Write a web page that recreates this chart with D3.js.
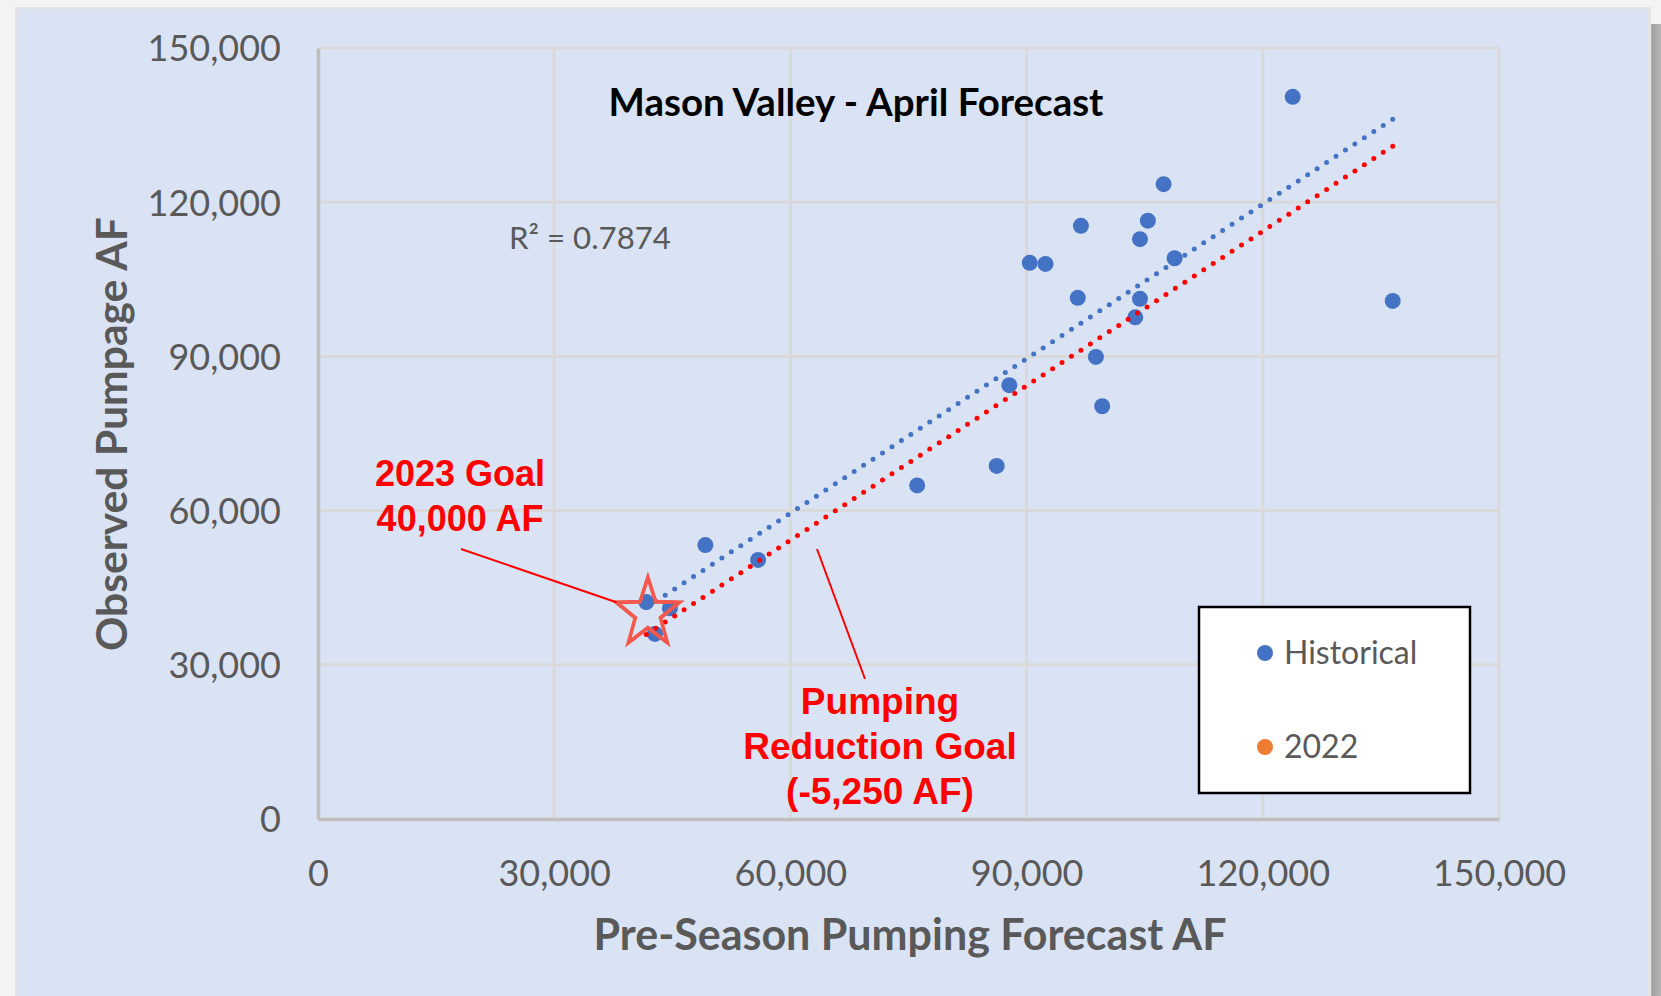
<!DOCTYPE html>
<html>
<head>
<meta charset="utf-8">
<script src="https://cdn.jsdelivr.net/npm/d3@7"></script>
<style>
  html, body { margin: 0; padding: 0; background: #f2f2f2; }
  svg { display: block; }
</style>
</head>
<body>
<svg id="chart" width="1661" height="996"></svg>
<script>
// Historical seasons: pre-season forecast vs. observed pumpage (AF)
const historicalForecast = [123800, 107400, 96900, 105400, 104400, 90400, 92400, 108800, 96500, 104400,
                            136500, 103800, 98800, 87800, 99600, 86200, 76100, 49200, 55900, 41700,
                            44700, 42800];
const historicalObserved = [140500, 123500, 115400, 116400, 112800, 108200, 108000, 109100, 101400, 101200,
                            100800, 97600, 89900, 84400, 80300, 68700, 64900, 53300, 50400, 42200,
                            41000, 36000];
// 2022 season (legend entry only)
const forecast2022 = [];
const observed2022 = [];

// Linear trend of historical data (end points)
const trendForecast = [41700, 136500];
const trendObserved = [41150, 136150];
const rSquared = 0.7874;

// Pumping reduction goal and 2023 target
const reductionAF = 5250;
const goalForecast = 41900;
const goalPumpage = 40000;

const xTicks = [0, 30000, 60000, 90000, 120000, 150000];
const yTicks = [0, 30000, 60000, 90000, 120000, 150000];

const svg = d3.select("#chart");
const W = 1661, H = 996;
const plot = { left: 318, right: 1499, top: 48, bottom: 819 };

const x = d3.scaleLinear().domain([0, 150000]).range([plot.left, plot.right]);
const y = d3.scaleLinear().domain([0, 150000]).range([plot.bottom, plot.top]);
const fmt = d3.format(",");

const labelGrey = "#595959";
const sansFont = "Lato, 'Open Sans', sans-serif";
const boldRed = "'Liberation Sans', Arial, sans-serif";

function fitWidth(sel, w) {
  const fs = parseFloat(sel.attr("font-size"));
  const len = sel.node().getComputedTextLength();
  sel.attr("font-size", (fs * w / len).toFixed(2));
  return sel;
}

// Round-dot pattern whose dots land on both ends of the path
function roundDots(path, spacing) {
  const len = path.node().getTotalLength();
  const n = Math.max(1, Math.round(len / spacing));
  path.attr("stroke-dasharray", `0 ${(len / n).toFixed(3)}`);
}

// Page / panel background with drop shadow on the right
svg.append("rect").attr("width", W).attr("height", H).attr("fill", "#f3f3f3");
const shade = svg.append("defs").append("linearGradient").attr("id", "shade");
shade.append("stop").attr("offset", "0%").attr("stop-color", "#c9c9c9");
shade.append("stop").attr("offset", "35%").attr("stop-color", "#a3a3a3");
shade.append("stop").attr("offset", "100%").attr("stop-color", "#b5b5b5");
svg.append("rect").attr("x", 1648).attr("y", 24).attr("width", 13).attr("height", H - 24).attr("fill", "url(#shade)");
svg.append("rect").attr("x", 15).attr("y", 7).attr("width", 1636).attr("height", H).attr("fill", "#e4e4e4");
svg.append("rect").attr("x", 18).attr("y", 9).attr("width", 1630).attr("height", H).attr("fill", "#dae3f3");

// Gridlines
const grid = svg.append("g");
grid.selectAll("line.gx").data(xTicks.slice(1)).join("line")
  .attr("x1", d => x(d)).attr("x2", d => x(d))
  .attr("y1", plot.top).attr("y2", plot.bottom)
  .attr("stroke", "#d9d9d9").attr("stroke-width", 3);
grid.selectAll("line.gy").data(yTicks.slice(1)).join("line")
  .attr("x1", plot.left).attr("x2", plot.right)
  .attr("y1", d => y(d)).attr("y2", d => y(d))
  .attr("stroke", "#d9d9d9").attr("stroke-width", 3);

// Axes
const xAxis = svg.append("g").attr("transform", `translate(0,${plot.bottom})`)
  .call(d3.axisBottom(x).tickValues(xTicks).tickFormat(fmt).tickSize(0).tickPadding(41));
const yAxis = svg.append("g").attr("transform", `translate(${plot.left},0)`)
  .call(d3.axisLeft(y).tickValues(yTicks).tickFormat(fmt).tickSize(0).tickPadding(37));
[xAxis, yAxis].forEach(g => {
  g.select(".domain").attr("stroke", "#bfbfbf").attr("stroke-width", 3.5);
  g.selectAll("text").attr("font-family", sansFont).attr("font-size", 36)
    .attr("fill", labelGrey);
});
xAxis.selectAll("text").attr("dy", "0.71em");
yAxis.selectAll("text").attr("dy", "0.36em");

// Historical points
svg.append("g").selectAll("circle").data(d3.zip(historicalForecast, historicalObserved)).join("circle")
  .attr("cx", d => x(d[0])).attr("cy", d => y(d[1])).attr("r", 8)
  .attr("fill", "#4472c4");
svg.append("g").selectAll("circle").data(d3.zip(forecast2022, observed2022)).join("circle")
  .attr("cx", d => x(d[0])).attr("cy", d => y(d[1])).attr("r", 8)
  .attr("fill", "#ed7d31");

// Trend line and goal line (trend shifted down by the reduction)
const line = d3.line().x(d => x(d[0])).y(d => y(d[1]));
const trend = d3.zip(trendForecast, trendObserved);
const goalLine = trend.map(d => [d[0], d[1] - reductionAF]);
const trendPath = svg.append("path").datum(trend).attr("d", line)
  .attr("fill", "none").attr("stroke", "#4472c4").attr("stroke-width", 5)
  .attr("stroke-linecap", "round");
roundDots(trendPath, 11.3);
const goalPath = svg.append("path").datum(goalLine).attr("d", line)
  .attr("fill", "none").attr("stroke", "#ff0000").attr("stroke-width", 5)
  .attr("stroke-linecap", "round");
roundDots(goalPath, 11.3);

// 2023 goal star
const starR = 36, starInner = 0.4;
const starPts = d3.range(10).map(i => {
  const a = -Math.PI / 2 + i * Math.PI / 5;
  const r = i % 2 === 0 ? starR : starR * starInner;
  return [r * Math.cos(a), r * Math.sin(a)];
});
const sx = x(goalForecast), sy = y(goalPumpage);
svg.append("path")
  .attr("d", d3.line()(starPts) + "Z")
  .attr("transform", `translate(${sx},${sy}) scale(0.92,1)`)
  .attr("fill", "none").attr("stroke", "#f4574b").attr("stroke-width", 4)
  .attr("stroke-linejoin", "miter");

// Chart title
fitWidth(svg.append("text").attr("x", 856).attr("y", 116)
  .attr("text-anchor", "middle").attr("font-family", sansFont).attr("font-weight", 700)
  .attr("font-size", 34).attr("fill", "#000").text("Mason Valley - April Forecast"), 495);

// R-squared label
fitWidth(svg.append("text").attr("x", 509).attr("y", 249)
  .attr("font-family", sansFont).attr("font-size", 30).attr("fill", labelGrey)
  .text(`R² = ${rSquared}`), 162);

// Axis titles
fitWidth(svg.append("text").attr("x", 910).attr("y", 950)
  .attr("text-anchor", "middle").attr("font-family", sansFont).attr("font-weight", 700)
  .attr("font-size", 40).attr("fill", labelGrey).text("Pre-Season Pumping Forecast AF"), 633);
fitWidth(svg.append("text").attr("transform", "translate(127,434) rotate(-90)")
  .attr("text-anchor", "middle").attr("font-family", sansFont).attr("font-weight", 700)
  .attr("font-size", 40).attr("fill", labelGrey).text("Observed Pumpage AF"), 434);

// Goal annotation
const goalText = svg.append("text").attr("text-anchor", "middle")
  .attr("font-family", boldRed).attr("font-weight", 700).attr("font-size", 36).attr("fill", "#ff0000");
goalText.append("tspan").attr("x", 460).attr("y", 486).text("2023 Goal");
goalText.append("tspan").attr("x", 460).attr("y", 531).text(`${fmt(goalPumpage)} AF`);
svg.append("line")
  .attr("x1", 461).attr("y1", 549)
  .attr("x2", sx - starR * 0.92 * Math.sin(2 * Math.PI / 5)).attr("y2", sy - starR * Math.cos(2 * Math.PI / 5))
  .attr("stroke", "#ff0000").attr("stroke-width", 2);

// Reduction annotation
const redText = svg.append("text").attr("text-anchor", "middle")
  .attr("font-family", boldRed).attr("font-weight", 700).attr("font-size", 37).attr("fill", "#ff0000");
redText.append("tspan").attr("x", 880).attr("y", 714).text("Pumping");
redText.append("tspan").attr("x", 880).attr("y", 759).text("Reduction Goal");
redText.append("tspan").attr("x", 880).attr("y", 804).text(`(-${fmt(reductionAF)} AF)`);
svg.append("line").attr("x1", 817).attr("y1", 549).attr("x2", 865).attr("y2", 679)
  .attr("stroke", "#ff0000").attr("stroke-width", 2);

// Legend
const legend = svg.append("g");
legend.append("rect").attr("x", 1199).attr("y", 607).attr("width", 271).attr("height", 186)
  .attr("fill", "#ffffff").attr("stroke", "#000").attr("stroke-width", 2.5);
const legendItems = [
  { name: "Historical", color: "#4472c4", cy: 653 },
  { name: "2022", color: "#ed7d31", cy: 747 }
];
legend.selectAll("circle").data(legendItems).join("circle")
  .attr("cx", 1265).attr("cy", d => d.cy).attr("r", 8).attr("fill", d => d.color);
legend.selectAll("text").data(legendItems).join("text")
  .attr("x", 1284).attr("y", d => d.cy + 11)
  .attr("font-family", sansFont).attr("font-size", 32).attr("fill", labelGrey)
  .text(d => d.name);
</script>
</body>
</html>
